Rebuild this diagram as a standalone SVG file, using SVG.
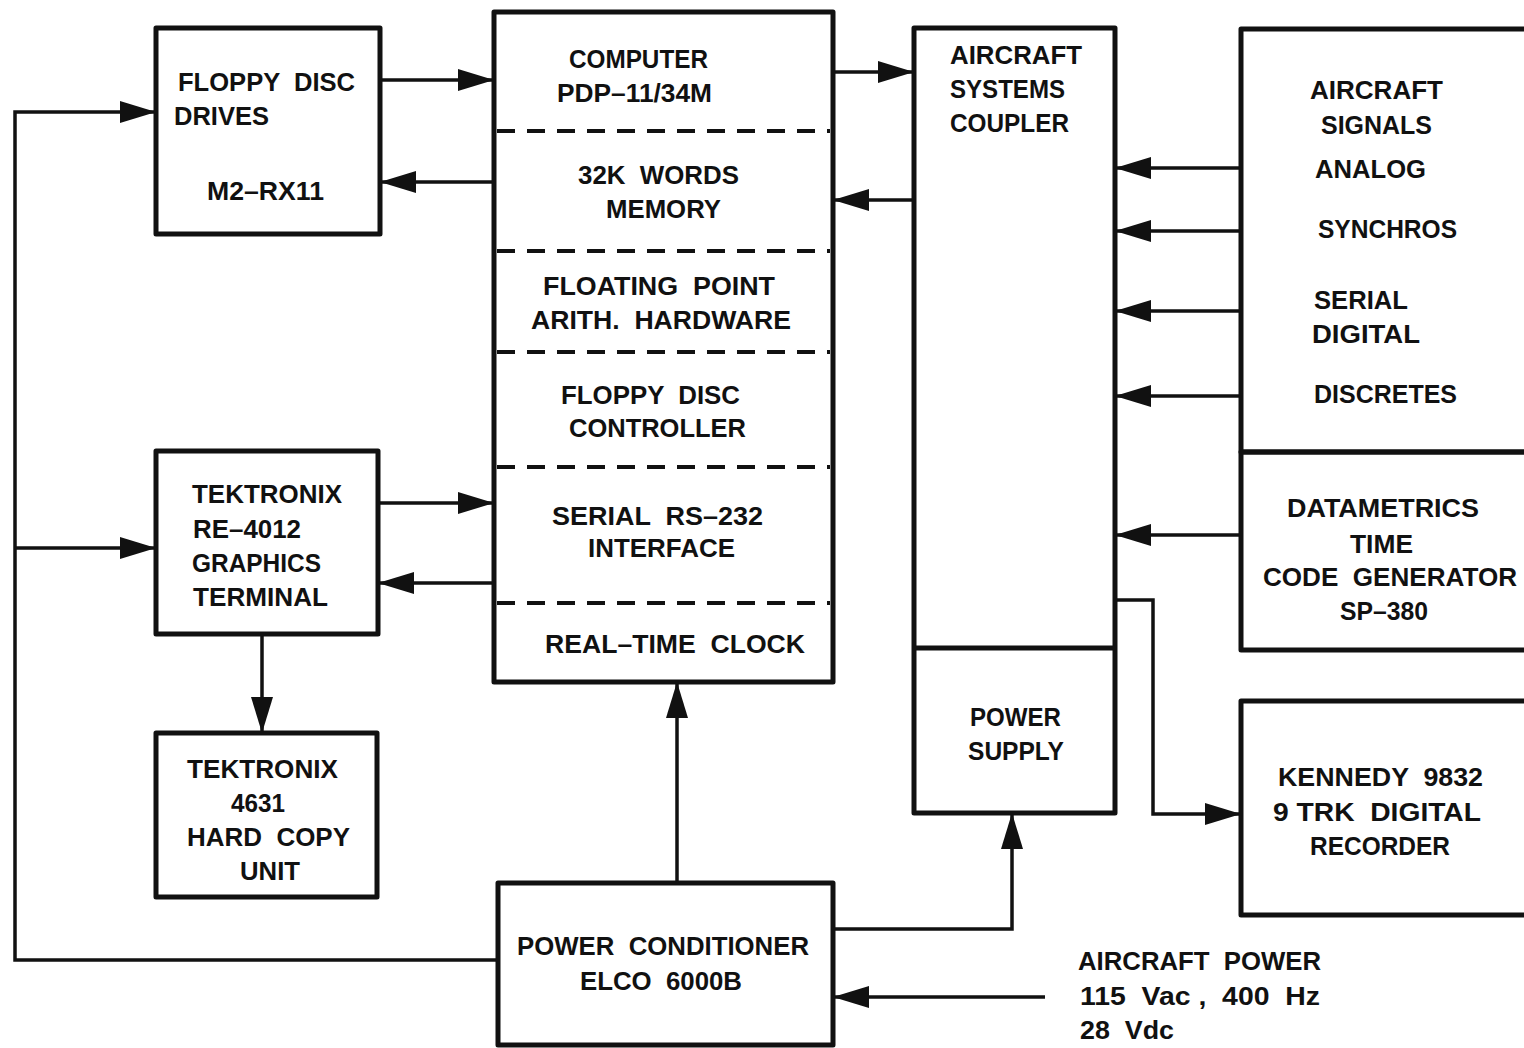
<svg xmlns="http://www.w3.org/2000/svg" width="1524" height="1048" viewBox="0 0 1524 1048" xml:space="preserve">
<style>
.box{fill:none;stroke:#111;stroke-width:5;stroke-linejoin:round}
.dash{fill:none;stroke:#111;stroke-width:4;stroke-dasharray:18 12}
.line{fill:none;stroke:#111;stroke-width:3.5}
.arr{marker-end:url(#ah)}
text{font-family:"Liberation Sans",Arial,sans-serif;font-weight:bold;font-size:25px;fill:#111;white-space:pre}
</style>
<defs>
<marker id="ah" markerUnits="userSpaceOnUse" markerWidth="36" markerHeight="22" refX="35" refY="11" orient="auto">
<path d="M0,0 L36,11 L0,22 z" fill="#111"/>
</marker>
</defs>
<rect width="1524" height="1048" fill="#fff"/>

<g id="connectors">
<path class="line arr" d="M380,80 H493"/>
<path class="line arr" d="M493,182 H381"/>
<path class="line arr" d="M497,960 H15 V112 H155"/>
<path class="line arr" d="M15,548 H155"/>
<path class="line arr" d="M378,503 H493"/>
<path class="line arr" d="M493,583 H379"/>
<path class="line arr" d="M262,635 V732"/>
<path class="line arr" d="M833,72 H913"/>
<path class="line arr" d="M913,200 H834"/>
<path class="line arr" d="M1240,168 H1116"/>
<path class="line arr" d="M1240,231 H1116"/>
<path class="line arr" d="M1240,311 H1116"/>
<path class="line arr" d="M1240,396 H1116"/>
<path class="line arr" d="M1240,535 H1116"/>
<path class="line arr" d="M1115,600 H1153 V814 H1240"/>
<path class="line arr" d="M677,882 V683"/>
<path class="line arr" d="M833,929 H1012 V814"/>
<path class="line arr" d="M1045,997 H834"/>
</g>

<g id="floppy-drives">
<rect class="box" x="156" y="28" width="224" height="206"/>
<text x="178" y="91" textLength="177" lengthAdjust="spacingAndGlyphs">FLOPPY  DISC</text>
<text x="174" y="125" textLength="95" lengthAdjust="spacingAndGlyphs">DRIVES</text>
<text x="207" y="200" textLength="117" lengthAdjust="spacingAndGlyphs">M2–RX11</text>
</g>

<g id="computer">
<rect class="box" x="494" y="12" width="339" height="670"/>
<path class="dash" d="M497,131 H830 M497,251 H830 M497,352 H830 M497,467 H830 M497,603 H830"/>
<text x="569" y="68" textLength="139" lengthAdjust="spacingAndGlyphs">COMPUTER</text>
<text x="557" y="102" textLength="155" lengthAdjust="spacingAndGlyphs">PDP–11/34M</text>
<text x="578" y="184" textLength="161" lengthAdjust="spacingAndGlyphs">32K  WORDS</text>
<text x="606" y="218" textLength="115" lengthAdjust="spacingAndGlyphs">MEMORY</text>
<text x="543" y="295" textLength="232" lengthAdjust="spacingAndGlyphs">FLOATING  POINT</text>
<text x="531" y="329" textLength="260" lengthAdjust="spacingAndGlyphs">ARITH.  HARDWARE</text>
<text x="561" y="404" textLength="179" lengthAdjust="spacingAndGlyphs">FLOPPY  DISC</text>
<text x="569" y="437" textLength="177" lengthAdjust="spacingAndGlyphs">CONTROLLER</text>
<text x="552" y="525" textLength="211" lengthAdjust="spacingAndGlyphs">SERIAL  RS–232</text>
<text x="588" y="557" textLength="147" lengthAdjust="spacingAndGlyphs">INTERFACE</text>
<text x="545" y="653" textLength="260" lengthAdjust="spacingAndGlyphs">REAL–TIME  CLOCK</text>
</g>

<g id="coupler">
<rect class="box" x="914" y="28" width="201" height="785"/>
<path class="box" d="M914,648 H1115"/>
<text x="950" y="64" textLength="132" lengthAdjust="spacingAndGlyphs">AIRCRAFT</text>
<text x="950" y="98" textLength="115" lengthAdjust="spacingAndGlyphs">SYSTEMS</text>
<text x="950" y="132" textLength="119" lengthAdjust="spacingAndGlyphs">COUPLER</text>
</g>

<g id="power-supply">
<text x="970" y="726" textLength="91" lengthAdjust="spacingAndGlyphs">POWER</text>
<text x="968" y="760" textLength="96" lengthAdjust="spacingAndGlyphs">SUPPLY</text>
</g>

<g id="aircraft-signals">
<rect class="box" x="1241" y="29" width="300" height="423"/>
<text x="1310" y="99" textLength="133" lengthAdjust="spacingAndGlyphs">AIRCRAFT</text>
<text x="1321" y="134" textLength="111" lengthAdjust="spacingAndGlyphs">SIGNALS</text>
<text x="1315" y="178" textLength="111" lengthAdjust="spacingAndGlyphs">ANALOG</text>
<text x="1318" y="238" textLength="139" lengthAdjust="spacingAndGlyphs">SYNCHROS</text>
<text x="1314" y="309" textLength="94" lengthAdjust="spacingAndGlyphs">SERIAL</text>
<text x="1312" y="343" textLength="108" lengthAdjust="spacingAndGlyphs">DIGITAL</text>
<text x="1314" y="403" textLength="143" lengthAdjust="spacingAndGlyphs">DISCRETES</text>
</g>

<g id="datametrics">
<rect class="box" x="1241" y="452" width="300" height="198"/>
<text x="1287" y="517" textLength="192" lengthAdjust="spacingAndGlyphs">DATAMETRICS</text>
<text x="1350" y="553" textLength="63" lengthAdjust="spacingAndGlyphs">TIME</text>
<text x="1263" y="586" textLength="254" lengthAdjust="spacingAndGlyphs">CODE  GENERATOR</text>
<text x="1340" y="620" textLength="88" lengthAdjust="spacingAndGlyphs">SP–380</text>
</g>

<g id="kennedy">
<rect class="box" x="1241" y="701" width="300" height="214"/>
<text x="1278" y="786" textLength="205" lengthAdjust="spacingAndGlyphs">KENNEDY  9832</text>
<text x="1273" y="821" textLength="208" lengthAdjust="spacingAndGlyphs">9 TRK  DIGITAL</text>
<text x="1310" y="855" textLength="140" lengthAdjust="spacingAndGlyphs">RECORDER</text>
</g>

<g id="tek-terminal">
<rect class="box" x="156" y="451" width="222" height="183"/>
<text x="192" y="503" textLength="150" lengthAdjust="spacingAndGlyphs">TEKTRONIX</text>
<text x="193" y="538" textLength="108" lengthAdjust="spacingAndGlyphs">RE–4012</text>
<text x="192" y="572" textLength="129" lengthAdjust="spacingAndGlyphs">GRAPHICS</text>
<text x="193" y="606" textLength="135" lengthAdjust="spacingAndGlyphs">TERMINAL</text>
</g>

<g id="tek-hardcopy">
<rect class="box" x="156" y="733" width="221" height="164"/>
<text x="187" y="778" textLength="151" lengthAdjust="spacingAndGlyphs">TEKTRONIX</text>
<text x="231" y="812" textLength="54" lengthAdjust="spacingAndGlyphs">4631</text>
<text x="187" y="846" textLength="163" lengthAdjust="spacingAndGlyphs">HARD  COPY</text>
<text x="240" y="880" textLength="60" lengthAdjust="spacingAndGlyphs">UNIT</text>
</g>

<g id="power-conditioner">
<rect class="box" x="498" y="883" width="335" height="162"/>
<text x="517" y="955" textLength="292" lengthAdjust="spacingAndGlyphs">POWER  CONDITIONER</text>
<text x="580" y="990" textLength="162" lengthAdjust="spacingAndGlyphs">ELCO  6000B</text>
</g>

<g id="aircraft-power">
<text x="1078" y="970" textLength="243" lengthAdjust="spacingAndGlyphs">AIRCRAFT  POWER</text>
<text x="1080" y="1005" textLength="240" lengthAdjust="spacingAndGlyphs">115  Vac ,  400  Hz</text>
<text x="1080" y="1039" textLength="94" lengthAdjust="spacingAndGlyphs">28  Vdc</text>
</g>
</svg>
